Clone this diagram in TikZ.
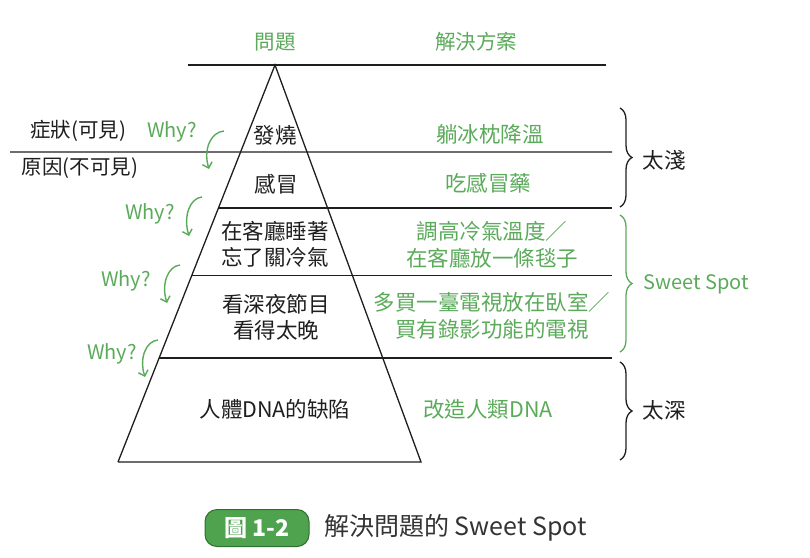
\documentclass[tikz,border=0pt]{standalone}
\usepackage{fontspec}
\setmainfont{Noto Sans CJK TC}
\usetikzlibrary{calc,decorations.pathreplacing,arrows.meta}
\definecolor{gr}{HTML}{5AAA5A}
\definecolor{badgefill}{HTML}{4FA34F}
\definecolor{badgeline}{HTML}{2F6F2F}
\definecolor{ink}{HTML}{1E1E1E}
\definecolor{captxt}{HTML}{333333}
\tikzset{
  ln/.style={draw=ink, line width=1.3pt},
  blk/.style={font=\fontsize{21.5}{26}\selectfont, text=ink, align=center, inner sep=0pt},
  grn/.style={font=\fontsize{21.5}{27}\selectfont, text=gr, align=center, inner sep=0pt},
  lbl/.style={font=\fontsize{20.5}{24}\selectfont, text=ink, inner sep=0pt},
  hdr/.style={font=\fontsize{20.5}{24}\selectfont, text=gr, inner sep=0pt},
  whytxt/.style={font=\fontsize{20}{24}\selectfont, text=gr, inner sep=0pt},
  whyarrow/.style={draw=gr, line width=1.4pt, -{Straight Barb[length=5pt,width=10pt]}},
  bracestyle/.style={line width=1.3pt, decorate, decoration={brace, amplitude=12pt}},
  badge/.style={fill=badgefill, draw=badgeline, line width=1pt, rounded corners=12pt,
    minimum width=104pt, minimum height=37pt, text=white, font=\fontsize{23}{26}\selectfont\bfseries, inner sep=0pt}
}
\begin{document}
\begin{tikzpicture}[x=1pt,y=-1pt]
\useasboundingbox (0,0) rectangle (810,557);

% pyramid
\coordinate (apex) at (275,65);
\coordinate (bl) at (118,462);
\coordinate (br) at (421,462);
\coordinate (R) at (612,0);
\coordinate (topL) at (188,65);
\coordinate (topR) at (606,65);
\coordinate (farL) at (10,152);

\coordinate (L1) at ($(apex)!0.219!(bl)$);
\coordinate (L2) at ($(apex)!0.360!(bl)$);
\coordinate (L3) at ($(apex)!0.531!(bl)$);
\coordinate (L4) at ($(apex)!0.738!(bl)$);

\draw[ln] (topL) -- (topR);
\draw[ln] (bl) -- (apex) -- (br) -- (bl);
\draw[ln] (farL) -- (L1 -| R);
\draw[ln] (L2) -- (L2 -| R);
\draw[ln] (L3) -- (L3 -| R);
\draw[ln] (L4) -- (L4 -| R);

% headers
\node[hdr] (h1) at (275,42) {問題};
\node[hdr] (h2) at (476,42) {解決方案};

% left labels
\node[lbl] (sym) at (78,131) {症狀(可見)};
\node[lbl] (cau) at (80,168) {原因(不可見)};

% pyramid texts
\node[blk] (p1) at (275,135) {發燒};
\node[blk] (p2) at (276,184) {感冒};
\node[blk] (p3) at (275,244) {在客廳睡著\\忘了關冷氣};
\node[blk] (p4) at (276,317) {看深夜節目\\看得太晚};
\node[blk] (p5) at (275,409) {人體DNA的缺陷};

% solutions
\node[grn] (s1) at (490,134) {躺冰枕降溫};
\node[grn] (s2) at (488,183) {吃感冒藥};
\node[grn] (s3) at (492,245) {調高冷氣溫度／\\在客廳放一條毯子};
\node[grn] (s4) at (492,316) {多買一臺電視放在臥室／\\買有錄影功能的電視};
\node[grn] (s5) at (488,409) {改造人類DNA};

% why arrows
\node[whytxt] (w1) at (172,132) {Why?};
\node[whytxt] (w2) at (150,214) {Why?};
\node[whytxt] (w3) at (126,281) {Why?};
\node[whytxt] (w4) at (112,354) {Why?};

\coordinate (a1s) at (224,131); \coordinate (a1e) at (209,169);
\coordinate (a2s) at (202,197); \coordinate (a2e) at (189,236);
\coordinate (a3s) at (180,265); \coordinate (a3e) at (167,303);
\coordinate (a4s) at (158,340); \coordinate (a4e) at (145,377);
\draw[whyarrow] (a1s) .. controls (211,132) and (203,149) .. (a1e);
\draw[whyarrow] (a2s) .. controls (190,198) and (183,216) .. (a2e);
\draw[whyarrow] (a3s) .. controls (168,266) and (161,284) .. (a3e);
\draw[whyarrow] (a4s) .. controls (146,341) and (139,358) .. (a4e);

% braces
\coordinate (b1t) at (620,108); \coordinate (b1b) at (620,207);
\coordinate (b2t) at (620,215); \coordinate (b2b) at (620,352);
\coordinate (b3t) at (620,362); \coordinate (b3b) at (620,460);
\draw[bracestyle, draw=ink] (b1t) -- (b1b);
\draw[bracestyle, draw=gr] (b2t) -- (b2b);
\draw[bracestyle, draw=ink] (b3t) -- (b3b);
\node[blk] (shallow) at (664,160) {太淺};
\node[hdr, font=\fontsize{20}{24}\selectfont] (sweet) at (696,284) {Sweet Spot};
\node[blk] (deep) at (664,410) {太深};

% caption
\node[badge] (fig) at (257,528) {圖 1-2};
\node[anchor=west, text=captxt, font=\fontsize{25}{28}\selectfont, inner sep=0pt] (cap) at (324,528) {解決問題的 Sweet Spot};
\end{tikzpicture}
\end{document}
